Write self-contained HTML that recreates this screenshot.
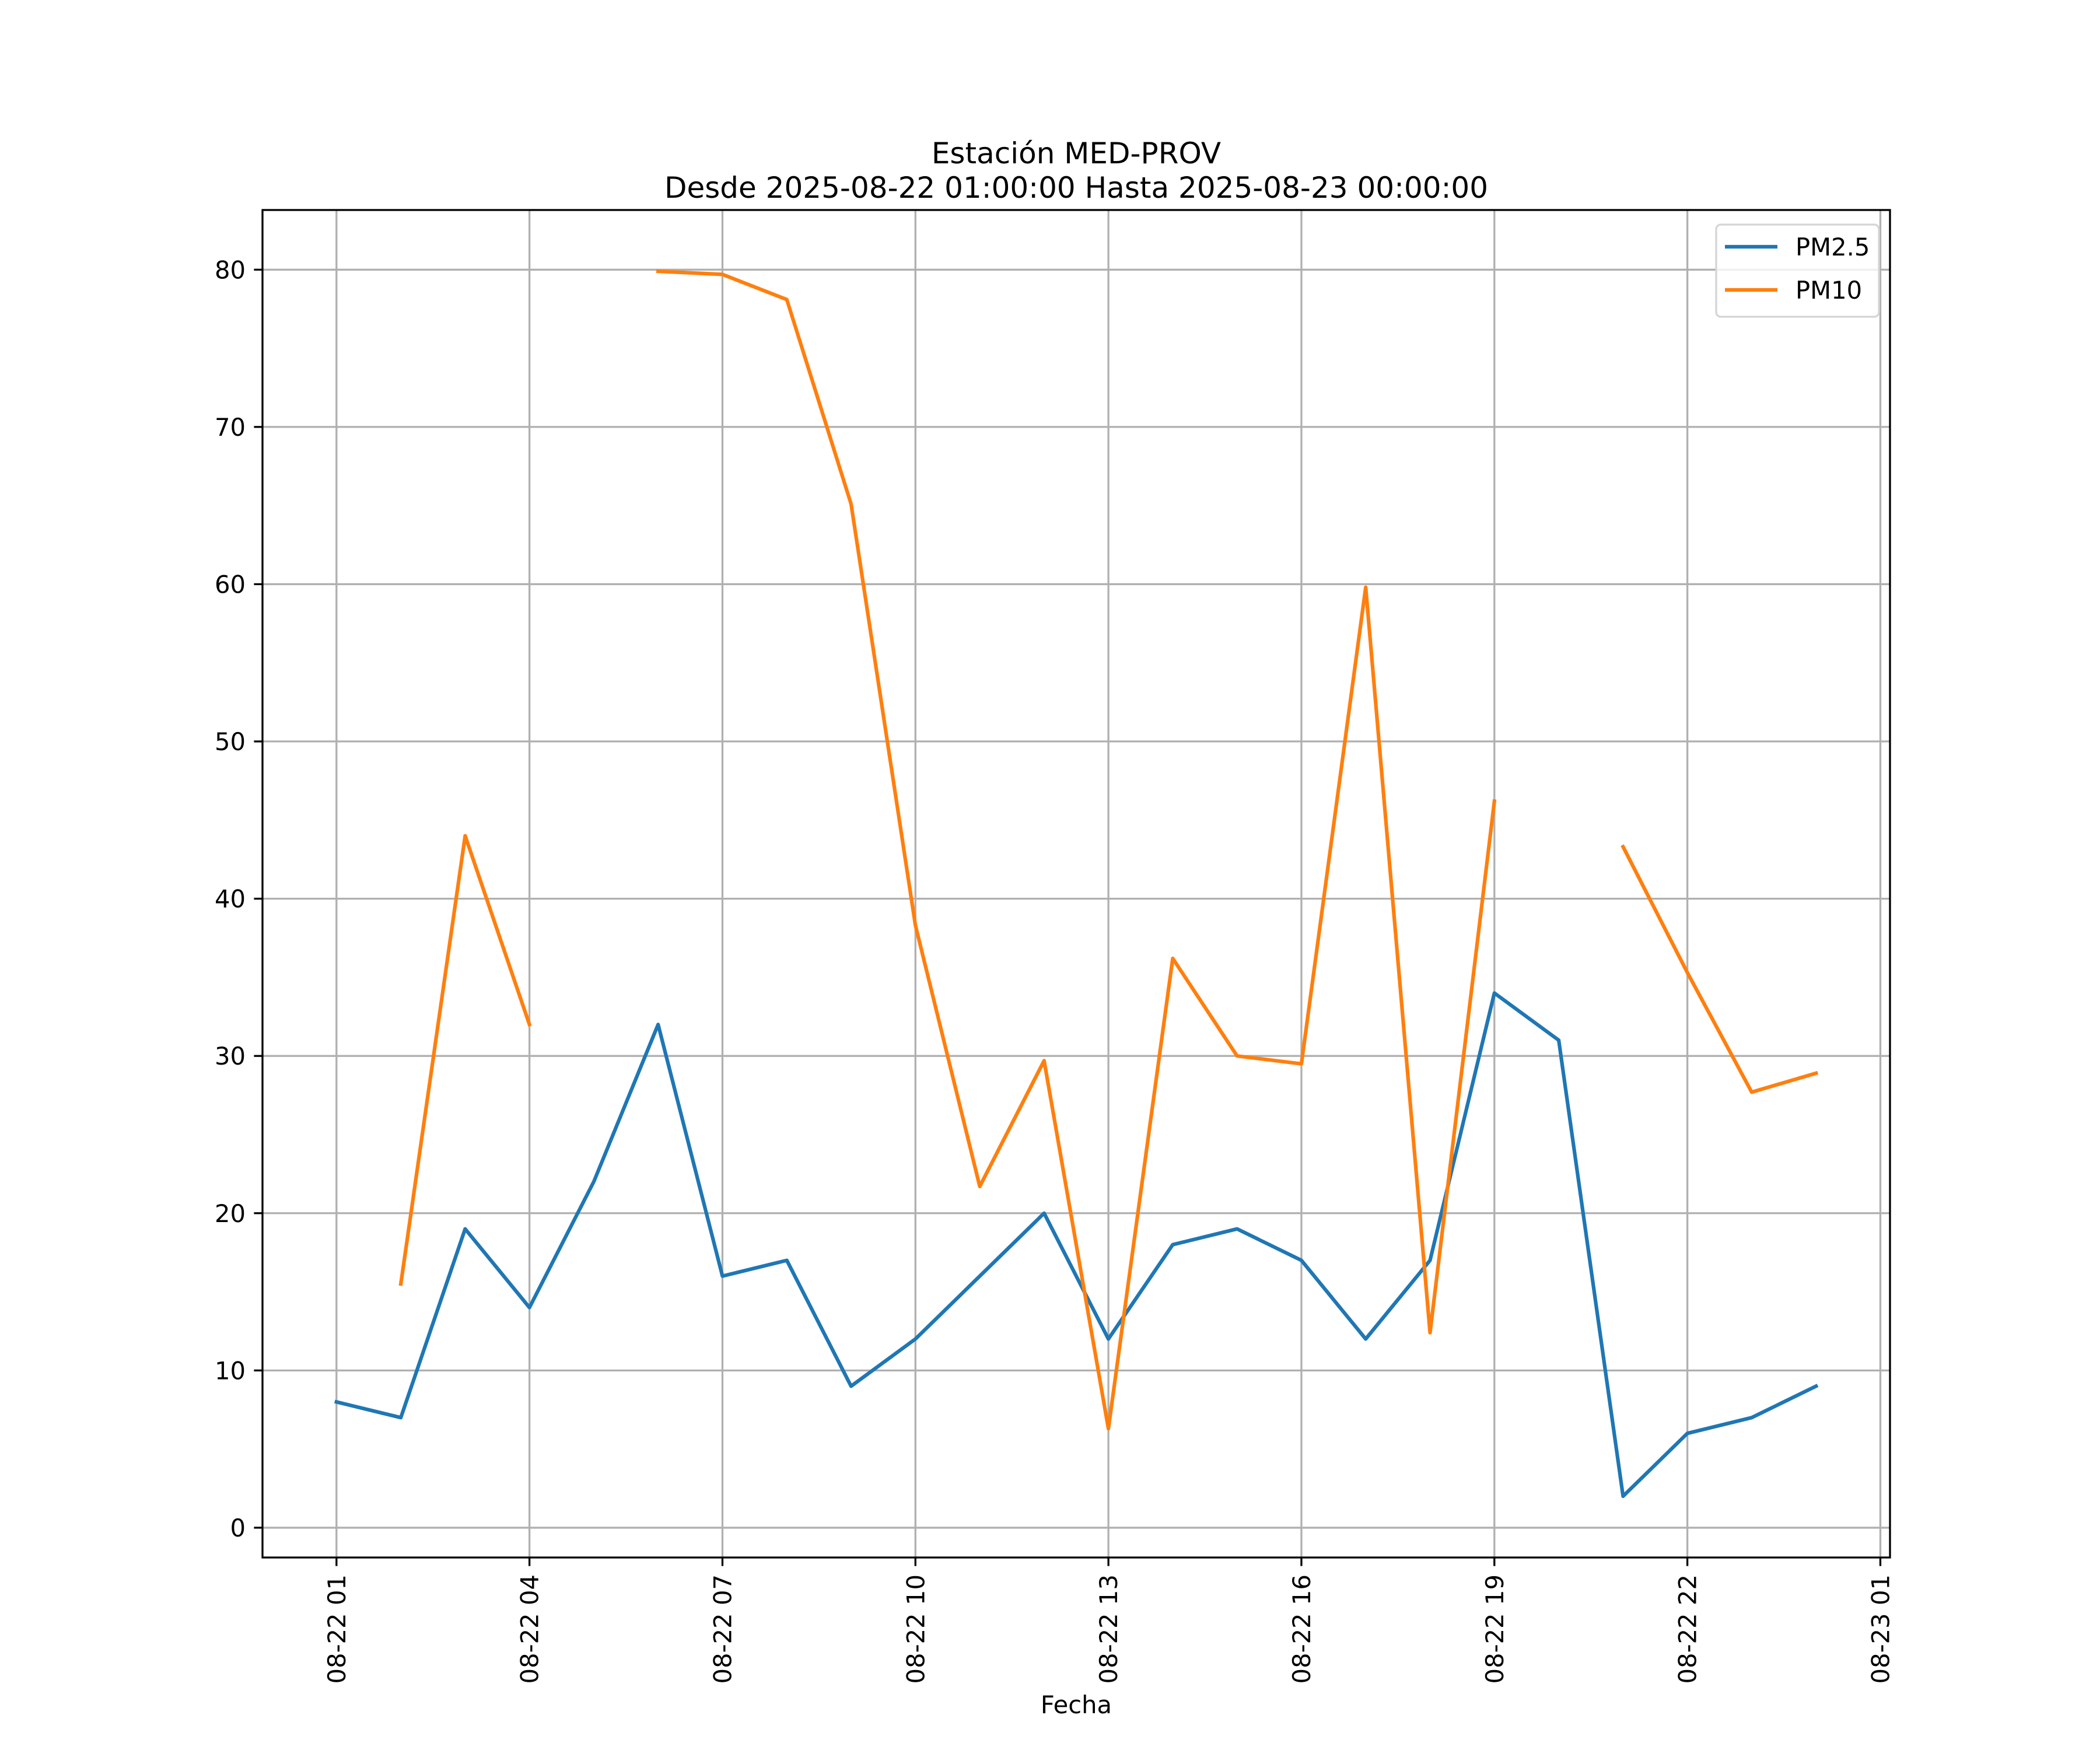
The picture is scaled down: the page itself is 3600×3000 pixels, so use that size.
<!DOCTYPE html>
<html><head><meta charset="utf-8"><style>
html,body{margin:0;padding:0;background:#fff}
svg{display:block;font-family:"DejaVu Sans","Liberation Sans",sans-serif}
</style></head><body>
<svg id="chart" width="3600" height="3000" viewBox="0 0 3600 3000">
<rect width="3600" height="3000" fill="#fff"/>
<g id="grid"></g>
<g id="series"></g>
<rect x="450" y="360" width="2790" height="2310" fill="none" stroke="#000" stroke-width="3.3"/>
<g id="ticks"></g>
<text x="1845" y="280" text-anchor="middle" font-size="50">Estación MED-PROV</text>
<text x="1845" y="339" text-anchor="middle" font-size="50">Desde 2025-08-22 01:00:00 Hasta 2025-08-23 00:00:00</text>
<text x="1845" y="2937" text-anchor="middle" font-size="41.7">Fecha</text>
<g>
<rect x="2942" y="385" width="279" height="158" rx="8" fill="#fff" fill-opacity="0.8" stroke="#d5d5d5" stroke-width="3.3"/>
<line x1="2957" y1="423" x2="3047" y2="423" stroke="#1f77b4" stroke-width="6.25"/>
<text x="3078" y="438" font-size="41.7">PM2.5</text>
<line x1="2957" y1="497" x2="3047" y2="497" stroke="#ff7f0e" stroke-width="6.25"/>
<text x="3078" y="512" font-size="41.7">PM10</text>
</g>
</svg>
<script>
const hours = [1,2,3,4,5,6,7,8,9,10,11,12,13,14,15,16,17,18,19,20,21,22,23,24];
const pm25 = [8,7,19,14,22,32,16,17,9,12,16,20,12,18,19,17,12,17,34,31,2,6,7,9];
const pm10 = [null,15.5,44,32,null,79.9,79.7,78.1,65.1,38.3,21.7,29.7,6.3,36.2,30,29.5,59.8,12.4,46.2,null,43.3,35.3,27.7,28.9];
const xTickHours = [1,4,7,10,13,16,19,22,25];
const xTickLabels = ["08-22 01","08-22 04","08-22 07","08-22 10","08-22 13","08-22 16","08-22 19","08-22 22","08-23 01"];
const yTicks = [0,10,20,30,40,50,60,70,80];

const NS="http://www.w3.org/2000/svg";
const L=450,R=3240,T=360,B=2670;
const all=pm25.concat(pm10.filter(v=>v!==null));
const dmin=Math.min(...all),dmax=Math.max(...all);
const ymin=dmin-(dmax-dmin)*0.05,ymax=dmax+(dmax-dmin)*0.05;
const hmin=hours[0],hmax=hours[hours.length-1];
const xmin=hmin-(hmax-hmin)*0.05,xmax=hmax+(hmax-hmin)*0.05;
const xs=h=>L+(h-xmin)/(xmax-xmin)*(R-L);
const ys=v=>B-(v-ymin)/(ymax-ymin)*(B-T);
function mk(tag,attrs,parent){const e=document.createElementNS(NS,tag);for(const k in attrs)e.setAttribute(k,attrs[k]);parent.appendChild(e);return e;}
const grid=document.getElementById('grid'),ticks=document.getElementById('ticks'),series=document.getElementById('series');
xTickHours.forEach((h,i)=>{
  const x=xs(h);
  const g=mk('line',{x1:x,x2:x,y1:T,y2:B,stroke:'#b0b0b0','stroke-width':3.3},grid);
  
  
  const t=mk('line',{x1:x,x2:x,y1:B,y2:B+14.6,stroke:'#000','stroke-width':3.3},ticks);
  
  
  const tx=mk('text',{x:0,y:0,'font-size':41.7,'text-anchor':'end',transform:`translate(${x+15},${B+29}) rotate(-90)`},ticks);
  tx.textContent=xTickLabels[i];
  
  
});
yTicks.forEach(v=>{
  const y=ys(v);
  const g=mk('line',{x1:L,x2:R,y1:y,y2:y,stroke:'#b0b0b0','stroke-width':3.3},grid);
  
  
  const t=mk('line',{x1:L-14.6,x2:L,y1:y,y2:y,stroke:'#000','stroke-width':3.3},ticks);
  
  
  const tx=mk('text',{x:L-29,y:y+15,'font-size':41.7,'text-anchor':'end'},ticks);
  tx.textContent=String(v);
  
  
});
function path(vals){let d='',pen=false;vals.forEach((v,i)=>{if(v===null){pen=false;return;}d+=(pen?'L':'M')+xs(hours[i]).toFixed(1)+' '+ys(v).toFixed(1)+' ';pen=true;});return d;}
const p1=mk('path',{d:path(pm25),fill:'none',stroke:'#1f77b4','stroke-width':6.25,'stroke-linejoin':'round','stroke-linecap':'square'},series);


const p2=mk('path',{d:path(pm10),fill:'none',stroke:'#ff7f0e','stroke-width':6.25,'stroke-linejoin':'round','stroke-linecap':'square'},series);


</script>
</body></html>
